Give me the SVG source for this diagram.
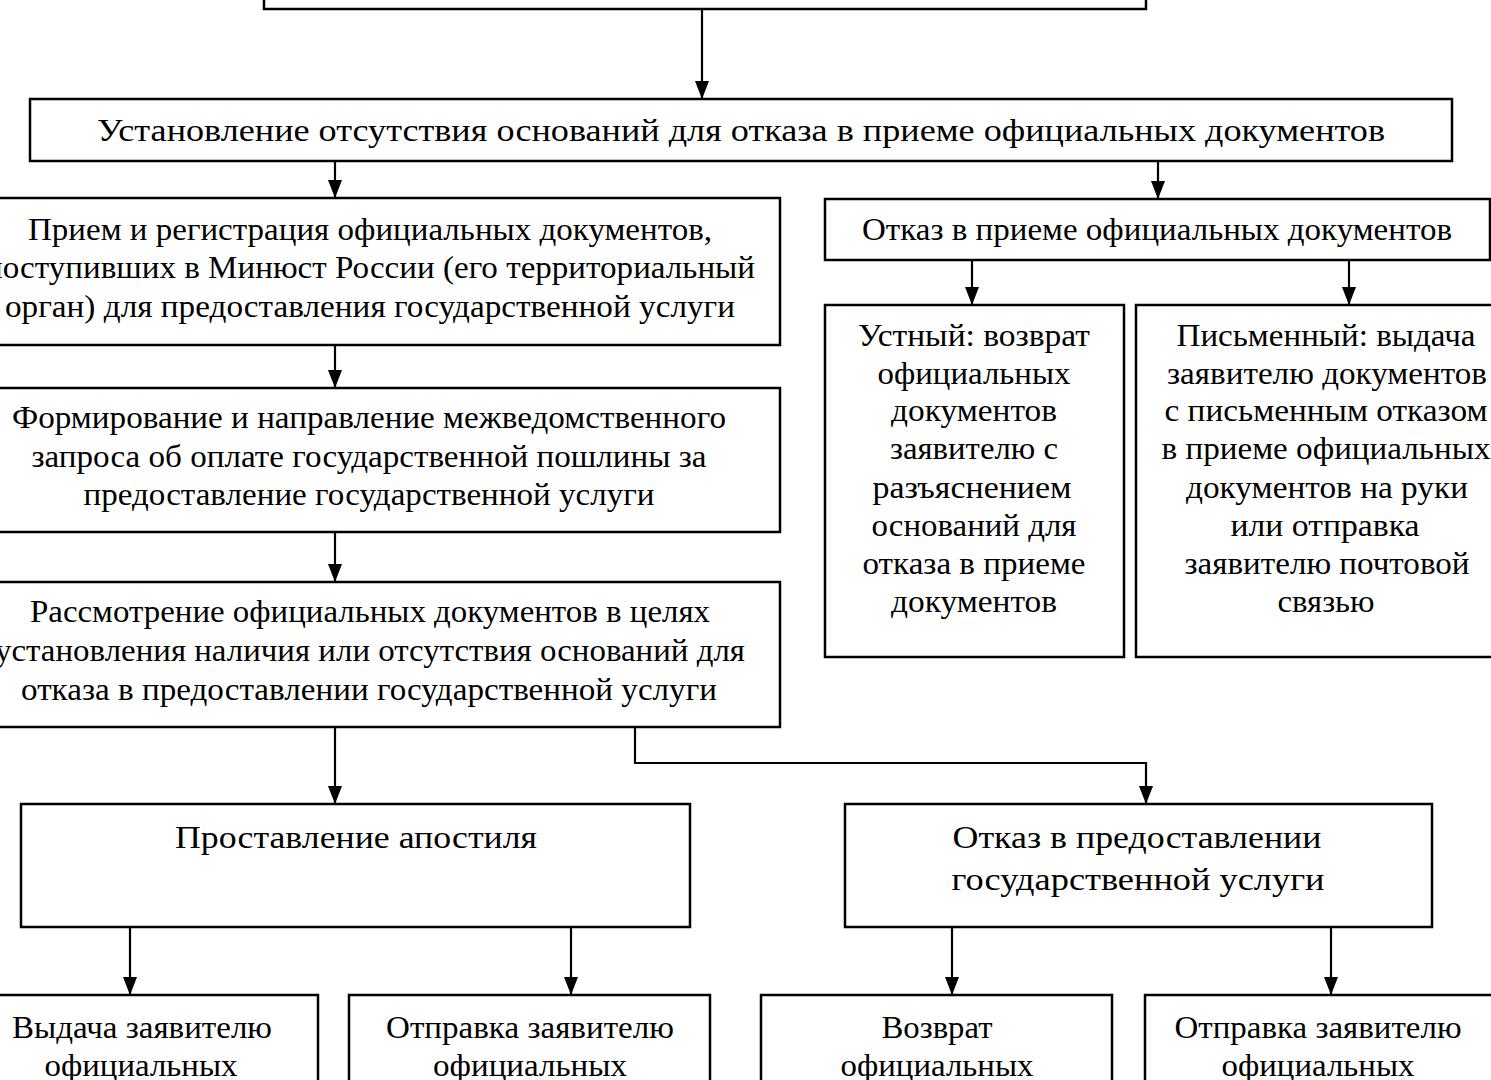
<svg xmlns="http://www.w3.org/2000/svg" width="1491" height="1080" viewBox="0 0 1491 1080">
<defs>
<style>
rect{fill:#fff;stroke:#000;stroke-width:2.5}
text{font-family:"Liberation Serif","Times New Roman",serif;font-size:32px;fill:#000;text-anchor:middle}
.c path,.c line,.c polyline{fill:none;stroke:#000;stroke-width:2.2}
</style>
<marker id="ah" viewBox="0 0 18 14" refX="18" refY="7" markerWidth="18" markerHeight="14" markerUnits="userSpaceOnUse" orient="auto">
<path d="M0,0 L18,7 L0,14 z" fill="#000"/>
</marker>
</defs>
<rect x="0" y="0" width="1491" height="1080" style="fill:#fff;stroke:none"/>

<g class="c" id="connectors">
<line x1="702" y1="9" x2="702" y2="99" marker-end="url(#ah)"/>
<line x1="335" y1="161" x2="335" y2="198" marker-end="url(#ah)"/>
<line x1="1158" y1="161" x2="1158" y2="199" marker-end="url(#ah)"/>
<line x1="972" y1="260" x2="972" y2="305" marker-end="url(#ah)"/>
<line x1="1349" y1="260" x2="1349" y2="305" marker-end="url(#ah)"/>
<line x1="335" y1="345" x2="335" y2="388" marker-end="url(#ah)"/>
<line x1="335" y1="532" x2="335" y2="582" marker-end="url(#ah)"/>
<line x1="335" y1="727" x2="335" y2="804" marker-end="url(#ah)"/>
<polyline points="635,727 635,763 1146,763 1146,804" marker-end="url(#ah)"/>
<line x1="130" y1="927" x2="130" y2="995" marker-end="url(#ah)"/>
<line x1="571" y1="927" x2="571" y2="995" marker-end="url(#ah)"/>
<line x1="952" y1="927" x2="952" y2="995" marker-end="url(#ah)"/>
<line x1="1331" y1="927" x2="1331" y2="995" marker-end="url(#ah)"/>
</g>

<g id="n-top"><rect x="264" y="-60" width="882" height="69"/></g>

<g id="n-establish">
<rect x="30" y="99" width="1422" height="62"/>
<text x="741" y="141" textLength="1288" lengthAdjust="spacingAndGlyphs">Установление отсутствия оснований для отказа в приеме официальных документов</text>
</g>

<g id="n-reception">
<rect x="-40" y="198" width="820" height="147"/>
<text x="370" y="240" textLength="684" lengthAdjust="spacingAndGlyphs">Прием и регистрация официальных документов,</text>
<text x="370" y="278" textLength="770" lengthAdjust="spacingAndGlyphs">поступивших в Минюст России (его территориальный</text>
<text x="370" y="317" textLength="730" lengthAdjust="spacingAndGlyphs">орган) для предоставления государственной услуги</text>
</g>

<g id="n-request">
<rect x="-40" y="388" width="820" height="144"/>
<text x="369" y="428" textLength="714" lengthAdjust="spacingAndGlyphs">Формирование и направление межведомственного</text>
<text x="369" y="467" textLength="675" lengthAdjust="spacingAndGlyphs">запроса об оплате государственной пошлины за</text>
<text x="369" y="505" textLength="571" lengthAdjust="spacingAndGlyphs">предоставление государственной услуги</text>
</g>

<g id="n-review">
<rect x="-40" y="582" width="820" height="145"/>
<text x="370" y="622" textLength="680" lengthAdjust="spacingAndGlyphs">Рассмотрение официальных документов в целях</text>
<text x="370" y="661" textLength="750" lengthAdjust="spacingAndGlyphs">установления наличия или отсутствия оснований для</text>
<text x="369" y="700" textLength="696" lengthAdjust="spacingAndGlyphs">отказа в предоставлении государственной услуги</text>
</g>

<g id="n-refuse-accept">
<rect x="825" y="199" width="665" height="61"/>
<text x="1157" y="240" textLength="590" lengthAdjust="spacingAndGlyphs">Отказ в приеме официальных документов</text>
</g>

<g id="n-oral">
<rect x="825" y="305" width="299" height="352"/>
<text x="974" y="346" textLength="232" lengthAdjust="spacingAndGlyphs">Устный: возврат</text>
<text x="974" y="384" textLength="193" lengthAdjust="spacingAndGlyphs">официальных</text>
<text x="974" y="421" textLength="166" lengthAdjust="spacingAndGlyphs">документов</text>
<text x="974" y="459" textLength="168" lengthAdjust="spacingAndGlyphs">заявителю с</text>
<text x="972" y="498" textLength="199" lengthAdjust="spacingAndGlyphs">разъяснением</text>
<text x="974" y="536" textLength="205" lengthAdjust="spacingAndGlyphs">оснований для</text>
<text x="974" y="574" textLength="223" lengthAdjust="spacingAndGlyphs">отказа в приеме</text>
<text x="974" y="612" textLength="166" lengthAdjust="spacingAndGlyphs">документов</text>
</g>

<g id="n-written">
<rect x="1136" y="305" width="380" height="352"/>
<text x="1326" y="346" textLength="299" lengthAdjust="spacingAndGlyphs">Письменный: выдача</text>
<text x="1327" y="384" textLength="320" lengthAdjust="spacingAndGlyphs">заявителю документов</text>
<text x="1326" y="421" textLength="323" lengthAdjust="spacingAndGlyphs">с письменным отказом</text>
<text x="1326" y="459" textLength="329" lengthAdjust="spacingAndGlyphs">в приеме официальных</text>
<text x="1327" y="498" textLength="282" lengthAdjust="spacingAndGlyphs">документов на руки</text>
<text x="1325" y="536" textLength="189" lengthAdjust="spacingAndGlyphs">или отправка</text>
<text x="1327" y="574" textLength="285" lengthAdjust="spacingAndGlyphs">заявителю почтовой</text>
<text x="1326" y="612" textLength="97" lengthAdjust="spacingAndGlyphs">связью</text>
</g>

<g id="n-apostille">
<rect x="21" y="804" width="669" height="123"/>
<text x="356" y="848" textLength="362" lengthAdjust="spacingAndGlyphs">Проставление апостиля</text>
</g>

<g id="n-refuse-service">
<rect x="845" y="804" width="587" height="123"/>
<text x="1137" y="848" textLength="369" lengthAdjust="spacingAndGlyphs">Отказ в предоставлении</text>
<text x="1138" y="890" textLength="373" lengthAdjust="spacingAndGlyphs">государственной услуги</text>
</g>

<g id="n-issue">
<rect x="-34" y="995" width="352" height="120"/>
<text x="142" y="1038" textLength="260" lengthAdjust="spacingAndGlyphs">Выдача заявителю</text>
<text x="141" y="1076" textLength="193" lengthAdjust="spacingAndGlyphs">официальных</text>
</g>

<g id="n-send1">
<rect x="349" y="995" width="361" height="120"/>
<text x="530" y="1038" textLength="288" lengthAdjust="spacingAndGlyphs">Отправка заявителю</text>
<text x="530" y="1076" textLength="194" lengthAdjust="spacingAndGlyphs">официальных</text>
</g>

<g id="n-return">
<rect x="761" y="995" width="351" height="120"/>
<text x="937" y="1038" textLength="111" lengthAdjust="spacingAndGlyphs">Возврат</text>
<text x="937" y="1076" textLength="193" lengthAdjust="spacingAndGlyphs">официальных</text>
</g>

<g id="n-send2">
<rect x="1145" y="995" width="380" height="120"/>
<text x="1318" y="1038" textLength="287" lengthAdjust="spacingAndGlyphs">Отправка заявителю</text>
<text x="1318" y="1076" textLength="193" lengthAdjust="spacingAndGlyphs">официальных</text>
</g>
</svg>
